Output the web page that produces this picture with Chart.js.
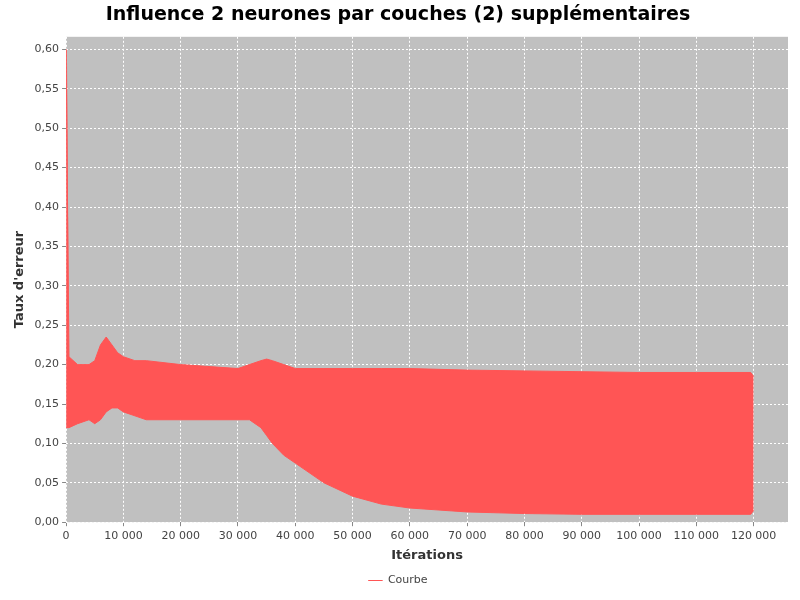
<!DOCTYPE html>
<html>
<head>
<meta charset="utf-8">
<script src="https://cdn.jsdelivr.net/npm/chart.js@4"></script>
<style>
  body { margin: 0; background: #fff; }
</style>
</head>
<body>
<canvas id="c" width="800" height="600"></canvas>
<script>
// Envelope of the oscillating error curve
const iterations = [0, 150, 500, 2000, 4000, 5000, 6000, 7000, 8000, 9000, 10000, 12000, 14000, 20000,
  30000, 32000, 34000, 35000, 36000, 38000, 40000, 45000, 50000, 55000, 60000, 70000, 80000,
  90000, 100000, 110000, 119500, 120000];
const upperValues = [0.60, 0.60, 0.21, 0.20, 0.20, 0.205, 0.225, 0.235, 0.225, 0.215, 0.21, 0.205, 0.205, 0.20,
  0.195, 0.20, 0.205, 0.207, 0.205, 0.20, 0.195, 0.195, 0.195, 0.195, 0.195, 0.193, 0.192,
  0.191, 0.19, 0.19, 0.19, 0.185];
const lowerValues = [0.12, 0.12, 0.12, 0.125, 0.13, 0.125, 0.13, 0.14, 0.145, 0.145, 0.14, 0.135, 0.13, 0.13,
  0.13, 0.13, 0.12, 0.11, 0.10, 0.085, 0.075, 0.05, 0.033, 0.023, 0.018, 0.013, 0.011,
  0.01, 0.01, 0.01, 0.01, 0.015];

const red = '#ff5555';
const fmtFr = (v, d) => v.toFixed(d).replace('.', ',');

const plotBg = {
  id: 'plotBg',
  beforeDraw(chart) {
    const a = chart.chartArea, ctx = chart.ctx;
    ctx.save();
    ctx.fillStyle = '#c0c0c0';
    ctx.fillRect(a.left, a.top, a.right - a.left, a.bottom - a.top);
    ctx.restore();
  }
};

new Chart(document.getElementById('c'), {
  type: 'line',
  data: {
    datasets: [
      { label: 'Courbe', data: iterations.map((x, i) => ({ x, y: upperValues[i] })),
        borderColor: red, backgroundColor: red, borderWidth: 1, pointRadius: 0, fill: false },
      { label: 'bas', data: iterations.map((x, i) => ({ x, y: lowerValues[i] })),
        borderColor: red, backgroundColor: red, borderWidth: 1, pointRadius: 0, fill: '-1' }
    ]
  },
  plugins: [plotBg],
  options: {
    responsive: false, animation: false,
    layout: { padding: { left: 8, right: 12, top: 0, bottom: 4 } },
    plugins: {
      title: { display: true, text: 'Influence 2 neurones par couches (2) supplémentaires',
        color: '#000', font: { family: 'DejaVu Sans', size: 19, weight: 'bold' }, padding: { top: 4, bottom: 10 } },
      legend: { position: 'bottom',
        labels: { filter: it => it.text === 'Courbe', boxWidth: 14, boxHeight: 0, color: '#444',
          font: { family: 'DejaVu Sans', size: 11 } } },
      tooltip: { enabled: false }
    },
    scales: {
      x: { type: 'linear', min: 0, max: 126000,
        title: { display: true, text: 'Itérations', color: '#333', font: { family: 'DejaVu Sans', size: 13, weight: 'bold' }, padding: 2 },
        afterBuildTicks: ax => { ax.ticks = []; for (let v = 0; v <= 120000; v += 10000) ax.ticks.push({ value: v }); },
        ticks: { color: '#444', font: { family: 'DejaVu Sans', size: 11 }, maxRotation: 0, autoSkip: false,
          callback: v => v.toLocaleString('fr-FR').replace(/\s/g, ' ') },
        grid: { color: '#ffffff', tickColor: '#888', tickLength: 4 },
        border: { display: false, dash: [2, 2] } },
      y: { min: 0, max: 0.616,
        title: { display: true, text: "Taux d'erreur", color: '#333', font: { family: 'DejaVu Sans', size: 13, weight: 'bold' } },
        afterBuildTicks: ax => { ax.ticks = []; for (let i = 0; i <= 12; i++) ax.ticks.push({ value: i * 0.05 }); },
        ticks: { color: '#444', font: { family: 'DejaVu Sans', size: 11 }, callback: v => fmtFr(v, 2) },
        grid: { color: '#ffffff', tickColor: '#888', tickLength: 4 },
        border: { display: false, dash: [2, 2] } }
    }
  }
});
</script>
</body>
</html>
